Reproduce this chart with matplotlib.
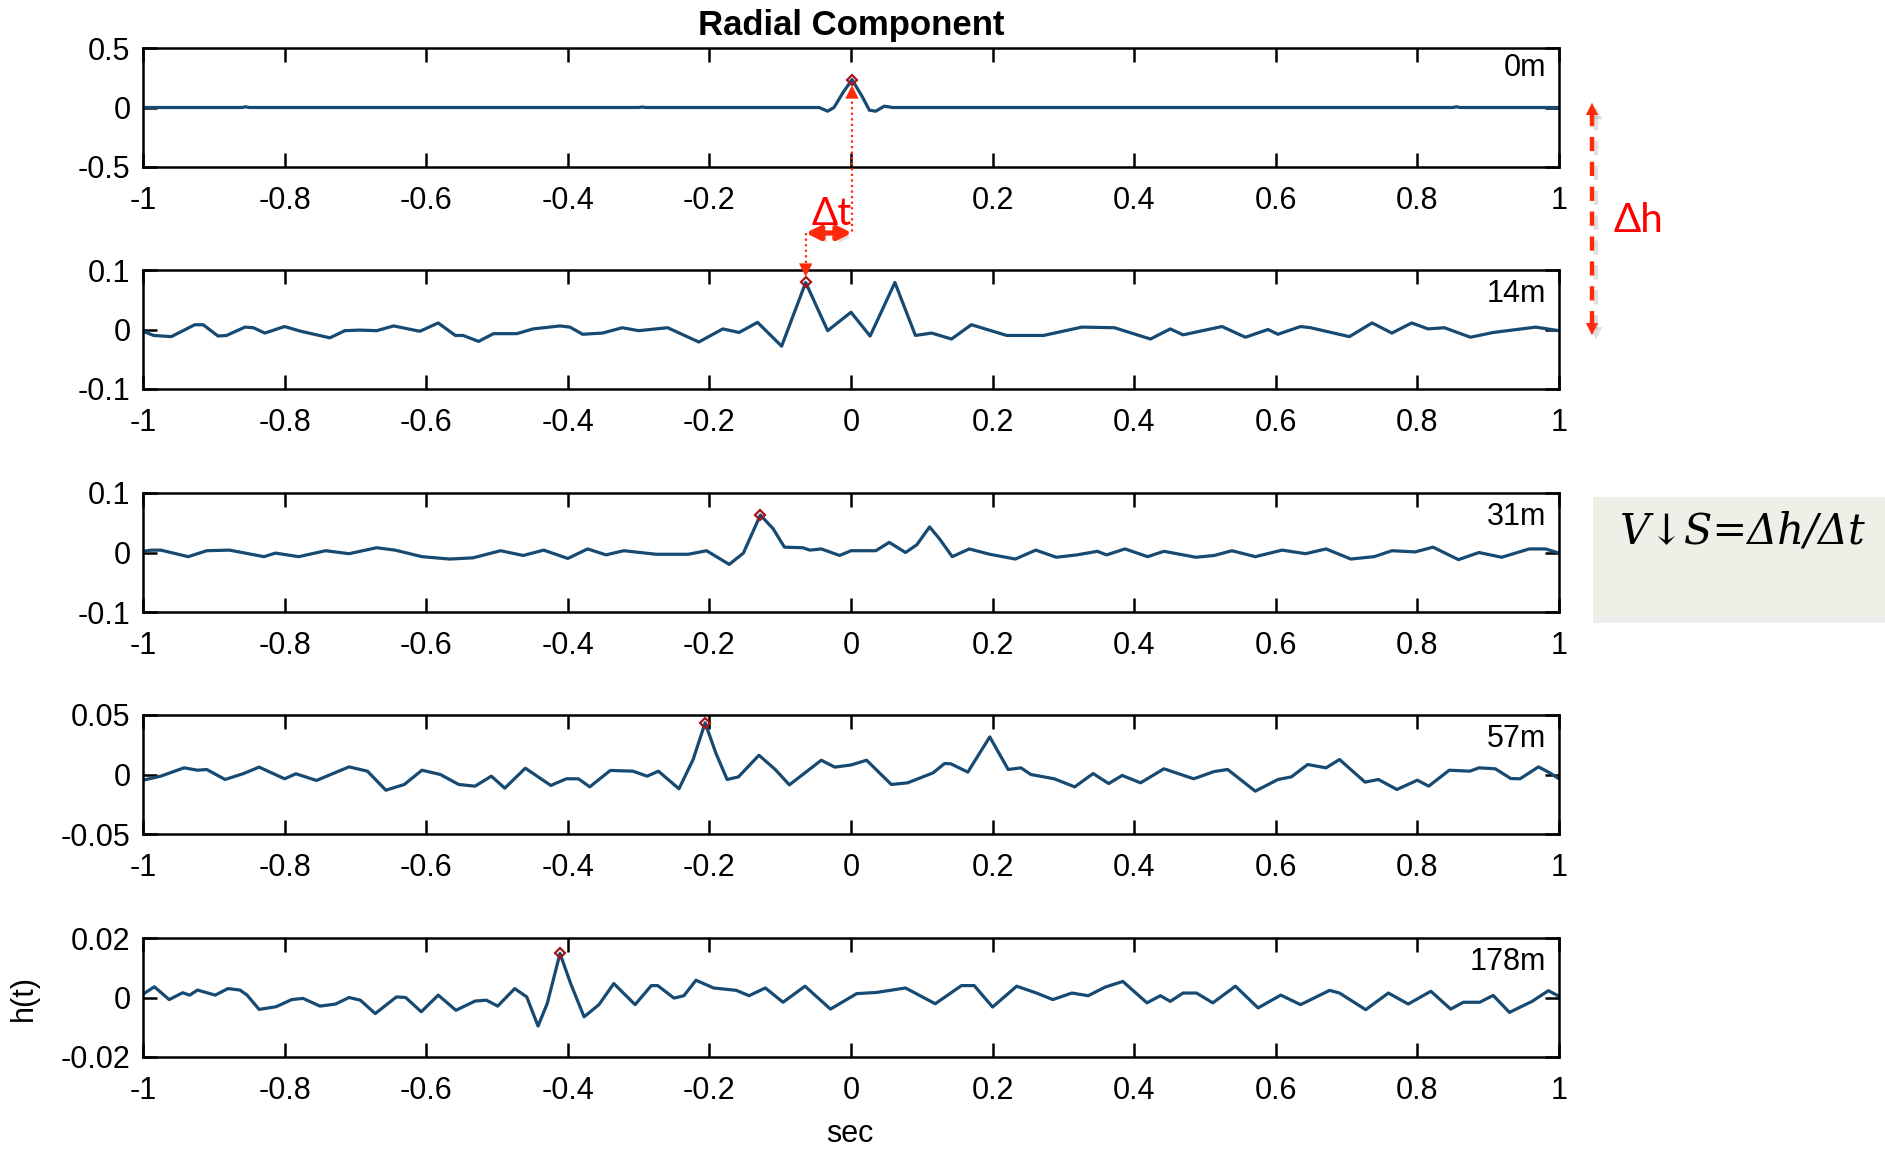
import matplotlib
matplotlib.use("Agg")
import matplotlib.pyplot as plt
import matplotlib.patheffects as pe
from matplotlib.patches import FancyArrowPatch, Rectangle
from matplotlib.lines import Line2D
from matplotlib.transforms import IdentityTransform

W, H = 1885, 1151

# ---- data ----
depths = ["0m", "14m", "31m", "57m", "178m"]
ylims = [0.5, 0.1, 0.1, 0.05, 0.02]
ytick_labels = [["-0.5", "0", "0.5"], ["-0.1", "0", "0.1"], ["-0.1", "0", "0.1"],
                ["-0.05", "0", "0.05"], ["-0.02", "0", "0.02"]]
xticks = [-1, -0.8, -0.6, -0.4, -0.2, 0, 0.2, 0.4, 0.6, 0.8, 1]
xtick_labels = ["-1", "-0.8", "-0.6", "-0.4", "-0.2", "0", "0.2", "0.4", "0.6", "0.8", "1"]

t_0m = [-1.0, -0.86, -0.855, -0.85, -0.3, -0.295, -0.29, -0.1, -0.045, -0.033, -0.024, -0.012,
        0.0014, 0.016, 0.026, 0.035, 0.047, 0.059, 0.3, 0.85, 0.855, 0.86, 1.0]
h_0m = [0.0, 0.0, 0.006, 0.0, 0.0, 0.004, 0.0, 0.0, 0.0, -0.031, 0.0, 0.119,
        0.235, 0.09, -0.023, -0.031, 0.011, 0.0, 0.0, 0.0, 0.006, 0.0, 0.0]

t_14m = [-1.0, -0.985, -0.96, -0.927, -0.915, -0.894, -0.882, -0.856, -0.844, -0.828, -0.8,
         -0.777, -0.736, -0.715, -0.694, -0.67, -0.646, -0.609, -0.583, -0.559, -0.548,
         -0.526, -0.505, -0.472, -0.449, -0.411, -0.397, -0.379, -0.351, -0.323, -0.3,
         -0.259, -0.215, -0.181, -0.158, -0.132, -0.098, -0.064, -0.033, 0.0, 0.027,
         0.062, 0.091, 0.114, 0.142, 0.17, 0.22, 0.272, 0.326, 0.372, 0.423, 0.451,
         0.469, 0.524, 0.557, 0.589, 0.603, 0.635, 0.649, 0.704, 0.736, 0.764, 0.792,
         0.815, 0.838, 0.875, 0.907, 0.967, 1.0]
h_14m = [-0.003, -0.010, -0.012, 0.008, 0.008, -0.011, -0.010, 0.004, 0.003, -0.006, 0.005,
         -0.003, -0.014, -0.002, -0.001, -0.002, 0.006, -0.003, 0.011, -0.010, -0.010,
         -0.020, -0.007, -0.007, 0.001, 0.006, 0.004, -0.008, -0.006, 0.003, -0.002,
         0.003, -0.021, 0.001, -0.005, 0.012, -0.028, 0.079, -0.002, 0.029, -0.011,
         0.079, -0.010, -0.006, -0.016, 0.008, -0.010, -0.010, 0.004, 0.003, -0.016, 0.001,
         -0.009, 0.005, -0.013, 0.000, -0.008, 0.005, 0.003, -0.012, 0.011, -0.006, 0.011,
         0.001, 0.003, -0.013, -0.005, 0.004, -0.002]

t_31m = [-1.0, -0.988, -0.975, -0.936, -0.91, -0.878, -0.829, -0.813, -0.78, -0.742, -0.709,
         -0.67, -0.644, -0.606, -0.567, -0.534, -0.495, -0.463, -0.434, -0.4, -0.372,
         -0.346, -0.321, -0.275, -0.23, -0.204, -0.172, -0.152, -0.128, -0.11, -0.094,
         -0.068, -0.058, -0.042, -0.016, 0.0, 0.035, 0.054, 0.077, 0.093, 0.111, 0.125,
         0.143, 0.167, 0.196, 0.232, 0.261, 0.29, 0.319, 0.348, 0.361, 0.387, 0.419,
         0.442, 0.487, 0.513, 0.538, 0.571, 0.609, 0.642, 0.671, 0.706, 0.739, 0.764,
         0.797, 0.822, 0.858, 0.887, 0.919, 0.958, 0.981, 1.0]
h_31m = [0.002, 0.004, 0.004, -0.007, 0.003, 0.004, -0.007, -0.001, -0.007, 0.003, -0.002,
         0.008, 0.004, -0.007, -0.011, -0.009, 0.003, -0.005, 0.004, -0.010, 0.006,
         -0.004, 0.003, -0.003, -0.003, 0.003, -0.020, -0.001, 0.063, 0.040, 0.009,
         0.008, 0.004, 0.006, -0.005, 0.003, 0.003, 0.017, 0.0, 0.013, 0.043, 0.023,
         -0.007, 0.006, -0.003, -0.011, 0.004, -0.008, -0.004, 0.002, -0.004, 0.006, -0.007,
         0.002, -0.008, -0.005, 0.003, -0.007, 0.004, -0.002, 0.006, -0.011, -0.007, 0.003,
         0.001, 0.009, -0.012, 0.000, -0.008, 0.006, 0.006, -0.001]

t_57m = [-1.0, -0.975, -0.942, -0.923, -0.91, -0.884, -0.858, -0.836, -0.8, -0.784, -0.755,
         -0.709, -0.683, -0.657, -0.631, -0.606, -0.58, -0.554, -0.531, -0.508, -0.489,
         -0.46, -0.424, -0.402, -0.385, -0.369, -0.34, -0.308, -0.288, -0.272, -0.243,
         -0.223, -0.206, -0.191, -0.175, -0.159, -0.13, -0.107, -0.087, -0.042, -0.023,
         0.0, 0.022, 0.057, 0.08, 0.116, 0.132, 0.141, 0.165, 0.196, 0.222, 0.24, 0.254,
         0.287, 0.316, 0.342, 0.364, 0.383, 0.409, 0.442, 0.484, 0.513, 0.532, 0.571,
         0.603, 0.622, 0.645, 0.671, 0.69, 0.726, 0.745, 0.771, 0.8, 0.816, 0.845, 0.874,
         0.887, 0.91, 0.932, 0.945, 0.971, 0.987, 1.0]
h_57m = [-0.0048, -0.0014, 0.0056, 0.0036, 0.0042, -0.0042, 0.0008, 0.0062, -0.0036, 0.0006,
         -0.0050, 0.0064, 0.0028, -0.0132, -0.0084, 0.0036, 0.0, -0.0084, -0.0098, -0.0014,
         -0.0115, 0.0053, -0.0092, -0.0036, -0.0036, -0.0104, 0.0034, 0.0028, -0.0014,
         0.0028, -0.0120, 0.0126, 0.0434, 0.0182, -0.0042, -0.0020, 0.0162, 0.0042, -0.0087,
         0.0120, 0.0062, 0.0080, 0.0120, -0.0084, -0.0070, 0.0014, 0.0092, 0.0090, 0.0020,
         0.0316, 0.0042, 0.0056, 0.0, -0.0036, -0.0104, 0.0008, -0.0076, -0.0008, -0.0070,
         0.0048, -0.0036, 0.0025, 0.0042, -0.0140, -0.0042, -0.0020, 0.0084, 0.0056, 0.0126,
         -0.0064, -0.0042, -0.0126, -0.0048, -0.0098, 0.0036, 0.0028, 0.0056, 0.0048,
         -0.0034, -0.0036, 0.0064, 0.0014, -0.0036]

t_178m = [-1.0, -0.984, -0.963, -0.944, -0.934, -0.923, -0.898, -0.88, -0.863, -0.853, -0.836,
          -0.812, -0.79, -0.774, -0.75, -0.728, -0.709, -0.693, -0.672, -0.642, -0.629,
          -0.607, -0.583, -0.558, -0.531, -0.515, -0.499, -0.475, -0.458, -0.442, -0.429,
          -0.411, -0.396, -0.377, -0.356, -0.335, -0.305, -0.282, -0.273, -0.25, -0.236,
          -0.219, -0.194, -0.162, -0.144, -0.121, -0.096, -0.065, -0.029, 0.008, 0.036,
          0.077, 0.119, 0.156, 0.174, 0.2, 0.234, 0.262, 0.285, 0.312, 0.335, 0.359, 0.384,
          0.418, 0.437, 0.451, 0.469, 0.488, 0.511, 0.543, 0.575, 0.607, 0.635, 0.676,
          0.69, 0.727, 0.759, 0.787, 0.819, 0.847, 0.865, 0.888, 0.907, 0.93, 0.962,
          0.985, 1.0]
h_178m = [0.0011, 0.0036, -0.0007, 0.0016, 0.0008, 0.0025, 0.0008, 0.0030, 0.0025, 0.0008,
          -0.0040, -0.0031, -0.0007, -0.0003, -0.0029, -0.0022, 0.0, -0.0009, -0.0054, 0.0002,
          0.0, -0.0048, 0.0008, -0.0043, -0.0012, -0.0009, -0.0029, 0.0030, 0.0002, -0.0096,
          -0.0020, 0.0148, 0.0047, -0.0065, -0.0024, 0.0047, -0.0024, 0.0040, 0.0040, -0.0002,
          0.0006, 0.0058, 0.0032, 0.0024, 0.0006, 0.0032, -0.0016, 0.0038, -0.0039, 0.0013,
          0.0017, 0.0032, -0.0021, 0.0040, 0.0040, -0.0032, 0.0038, 0.0015, -0.0007, 0.0015,
          0.0006, 0.0035, 0.0054, -0.0018, 0.0006, -0.0013, 0.0015, 0.0015, -0.0018, 0.0038,
          -0.0035, 0.0008, -0.0024, 0.0024, 0.0015, -0.0041, 0.0015, -0.0022, 0.0021, -0.0039,
          -0.0016, -0.0016, 0.0007, -0.0050, -0.0013, 0.0023, 0.0004]

times = [t_0m, t_14m, t_31m, t_57m, t_178m]
traces = [h_0m, h_14m, h_31m, h_57m, h_178m]
peak_t = [0.0014, -0.064, -0.128, -0.206, -0.411]
peak_h = [0.235, 0.079, 0.063, 0.0434, 0.0148]

# ---- figure ----
plt.rcParams['font.family'] = ['Liberation Sans', 'DejaVu Sans']
fig = plt.figure(figsize=(W / 100, H / 100), dpi=100)

left, width, height = 143 / W, (1559 - 143) / W, 119 / H
tops = [48, 270, 493, 715, 938]
label_y = [0.835, 0.80, 0.80, 0.80, 0.80]
line_col = '#174a72'
axes = []
for i in range(5):
    ax = fig.add_axes([left, 1 - (tops[i] + 119) / H, width, height])
    ax.plot(times[i], traces[i], color=line_col, lw=2.3)
    ax.plot(peak_t[i], peak_h[i], 'D', ms=5.5, mfc='none', mec='#a8141a', mew=1.6)
    ax.set_xlim(-1, 1)
    ax.set_ylim(-ylims[i], ylims[i])
    ax.set_xticks(xticks)
    labels = list(xtick_labels)
    if i == 0:
        labels[5] = ""   # hidden under the Δt annotation in the original
    ax.set_xticklabels(labels)
    ax.set_yticks([-ylims[i], 0, ylims[i]])
    ax.set_yticklabels(ytick_labels[i])
    ax.tick_params(axis='x', direction='in', top=True, length=10, width=1.8,
                   labelsize=22, pad=14)
    ax.tick_params(axis='y', direction='in', right=True, length=10, width=1.8,
                   labelsize=22, pad=9)
    for s in ax.spines.values():
        s.set_linewidth(1.8)
    ax.text(0.991, label_y[i], depths[i], transform=ax.transAxes, ha='right', va='center',
            fontsize=22)
    axes.append(ax)

axes[0].set_title('Radial Component', fontsize=25, fontweight='bold', pad=9)
fig.text(850 / W, 1 - 1134 / H, 'sec', ha='center', va='center', fontsize=22)
fig.text(24 / W, 1 - 998 / H, 'h(t)', ha='center', va='center', rotation=90, fontsize=22)

# ---- red annotations ----
red = '#ff2a0a'
ident = IdentityTransform()
shadow_line = [pe.SimpleLineShadow(offset=(3, -3), alpha=0.25, shadow_color='grey'), pe.Normal()]
shadow_patch = [pe.withSimplePatchShadow(offset=(3, -3), alpha=0.25, shadow_rgbFace='grey')]

p0 = axes[0].transData.transform((peak_t[0], peak_h[0]))
p1 = axes[1].transData.transform((peak_t[1], peak_h[1]))
y_dt = H - 233

fig.add_artist(Line2D([p0[0], p0[0]], [p0[1] - 16, y_dt], transform=ident, color=red,
                      lw=1.6, ls=(0, (1, 1.5))))
fig.add_artist(FancyArrowPatch((p0[0], p0[1] - 22), (p0[0], p0[1] - 3), transform=ident,
                               arrowstyle='-|>', mutation_scale=24, color=red, lw=0))
fig.add_artist(Line2D([p1[0], p1[0]], [y_dt, p1[1] + 16], transform=ident, color=red,
                      lw=1.6, ls=(0, (1, 1.5))))
fig.add_artist(FancyArrowPatch((p1[0], p1[1] + 22), (p1[0], p1[1] + 3), transform=ident,
                               arrowstyle='-|>', mutation_scale=24, color=red, lw=0))
fig.add_artist(FancyArrowPatch((p1[0], y_dt), (p0[0], y_dt), transform=ident,
                               arrowstyle='<|-|>', mutation_scale=20, color=red, lw=3.8,
                               shrinkA=0, shrinkB=0, path_effects=shadow_patch))
fig.text(812, H - 225, 'Δt', transform=ident, color='#ff0000', fontsize=28,
         family=['Lato', 'DejaVu Sans'], ha='left', va='baseline')

x_dh = 1592
fig.add_artist(Line2D([x_dh, x_dh], [H - 112, H - 326], transform=ident, color=red,
                      lw=3.2, ls=(0, (3.2, 2.4)), path_effects=shadow_line))
fig.add_artist(FancyArrowPatch((x_dh, H - 116), (x_dh, H - 100), transform=ident,
                               arrowstyle='-|>', mutation_scale=22, color=red, lw=0,
                               path_effects=shadow_patch))
fig.add_artist(FancyArrowPatch((x_dh, H - 322), (x_dh, H - 338), transform=ident,
                               arrowstyle='-|>', mutation_scale=22, color=red, lw=0,
                               path_effects=shadow_patch))
fig.text(1613, H - 232, 'Δh', transform=ident, color='#ff0000', fontsize=29,
         family=['Lato', 'DejaVu Sans'], ha='left', va='baseline')

# formula box
fig.add_artist(Rectangle((1593, H - 617), W - 1593, 120, transform=ident,
                         facecolor='#efeee7', edgecolor='none',
                         path_effects=[pe.withSimplePatchShadow(offset=(0, -4), alpha=0.15,
                                                                shadow_rgbFace='grey')]))
fig.text(1620, H - 543, 'V↓S=Δh/Δt', transform=ident, color='black', fontsize=30,
         style='italic', family=['DejaVu Serif'], ha='left', va='baseline')

fig.savefig('out.png', dpi=100)
